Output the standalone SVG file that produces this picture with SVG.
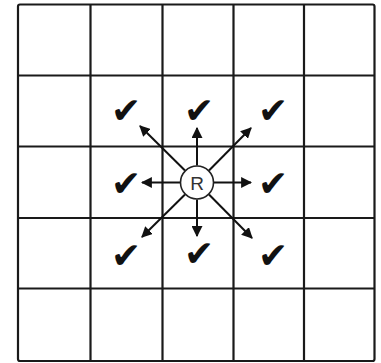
<svg xmlns="http://www.w3.org/2000/svg" width="381" height="363" viewBox="0 0 381 363">
<style>
.grid{fill:none;stroke:#1a1a1a;stroke-width:2.2}
.chk{font-family:"DejaVu Sans",sans-serif;font-size:36px;fill:#111;text-anchor:middle}
.arr{stroke:#111;stroke-width:2;fill:none;marker-end:url(#ah)}
.lbl{font-family:"Liberation Sans",Arial,sans-serif;font-size:19px;fill:#333;text-anchor:middle}
</style>
<defs>
<marker id="ah" viewBox="0 0 10 10" refX="9" refY="5" markerWidth="5.5" markerHeight="5.5" orient="auto" markerUnits="strokeWidth">
<path d="M0,0 L10,5 L0,10 z" fill="#111"/>
</marker>
</defs>
<rect width="381" height="363" fill="#fff"/>
<g id="grid">
<rect class="grid" x="18" y="4.5" width="356.5" height="356.5" rx="2"/>
<path class="grid" d="M90.5,4.5V361 M162.5,4.5V361 M233.5,4.5V361 M304,4.5V361 M18,75.5H374.5 M18,146.5H374.5 M18,218H374.5 M18,288.5H374.5"/>
</g>
<g id="connectors">
<line class="arr" x1="197" y1="165.5" x2="197" y2="128"/>
<line class="arr" x1="197" y1="199.5" x2="197" y2="236"/>
<line class="arr" x1="180" y1="182.5" x2="142" y2="182.5"/>
<line class="arr" x1="214" y1="182.5" x2="251" y2="182.5"/>
<line class="arr" x1="185" y1="170.5" x2="140" y2="126"/>
<line class="arr" x1="209" y1="170.5" x2="251" y2="128"/>
<line class="arr" x1="185" y1="194.5" x2="142" y2="237"/>
<line class="arr" x1="209" y1="194.5" x2="252" y2="238"/>
</g>
<g id="R">
<circle cx="197" cy="182.5" r="16.5" fill="#fff" stroke="#222" stroke-width="1.6"/>
<text class="lbl" x="197" y="189.5">R</text>
</g>
<g id="checks">
<text class="chk" x="126" y="123">✔</text>
<text class="chk" x="199" y="123">✔</text>
<text class="chk" x="273" y="123">✔</text>
<text class="chk" x="126" y="196">✔</text>
<text class="chk" x="273" y="196">✔</text>
<text class="chk" x="126" y="268">✔</text>
<text class="chk" x="199" y="266">✔</text>
<text class="chk" x="273" y="268">✔</text>
</g>
</svg>
